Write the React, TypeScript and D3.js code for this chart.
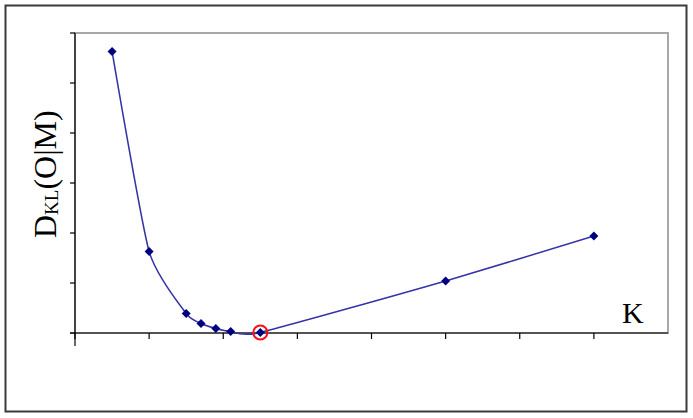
import React from 'react';
import * as d3 from 'd3';

// K values and divergence
const kValues = [10, 20, 30, 34, 38, 42, 50, 100, 140];
const dklValues = [5.63, 1.63, 0.39, 0.19, 0.09, 0.03, 0.01, 1.04, 1.94];
const xTicks = [0, 20, 40, 60, 80, 100, 120, 140];
const yTicks = [0, 1, 2, 3, 4, 5, 6];
const bestIndex = 6;

const width = 693;
const height = 418;
const plot = { left: 75, right: 668, top: 33, bottom: 333 };

const App = () => {
  const x = d3.scaleLinear().domain([0, 160]).range([plot.left, plot.right]);
  const y = d3.scaleLinear().domain([0, 6]).range([plot.bottom, plot.top]);

  const points = kValues.map((k, i) => [k, dklValues[i]] as [number, number]);
  const line = d3
    .line<[number, number]>()
    .x((d) => x(d[0]))
    .y((d) => y(d[1]))
    .curve(d3.curveCardinal.tension(0.45));

  const diamond = 'M0,-4.5L4.5,0L0,4.5L-4.5,0Z';
  const best = points[bestIndex];

  return (
    <svg
      width={width}
      height={height}
      style={{ position: 'absolute', left: 0, top: 0, background: '#fff' }}
      fontFamily="'Liberation Serif', 'Times New Roman', serif"
    >
      {/* chart frame */}
      <rect x={5.5} y={5.5} width={681} height={406} fill="#fff" stroke="#3a3a3a" strokeWidth={2} />

      {/* plot area border */}
      <rect
        x={plot.left}
        y={plot.top}
        width={plot.right - plot.left}
        height={plot.bottom - plot.top}
        fill="#fff"
        stroke="#a8a8a8"
        strokeWidth={2}
      />

      {/* y axis */}
      <line x1={plot.left} y1={plot.top} x2={plot.left} y2={plot.bottom + 13} stroke="#000" strokeWidth={1.2} />
      {yTicks.map((t) => (
        <line key={'yt' + t} x1={plot.left - 5} x2={plot.left} y1={y(t)} y2={y(t)} stroke="#000" strokeWidth={1.2} />
      ))}

      {/* x axis */}
      <line x1={plot.left - 5} y1={plot.bottom} x2={plot.right} y2={plot.bottom} stroke="#000" strokeWidth={1.2} />
      {xTicks.map((t) => (
        <line key={'xt' + t} x1={x(t)} x2={x(t)} y1={plot.bottom} y2={plot.bottom + 6} stroke="#000" strokeWidth={1.2} />
      ))}

      {/* series */}
      <path d={line(points) || ''} fill="none" stroke="#3434a8" strokeWidth={1.5} />
      {points.map((p, i) => (
        <path key={i} d={diamond} transform={`translate(${x(p[0])},${y(p[1])})`} fill="#000080" />
      ))}
      <circle cx={x(best[0])} cy={y(best[1])} r={7} fill="none" stroke="#ff1010" strokeWidth={2} />

      {/* labels */}
      <text transform="translate(56,238) rotate(-90)" fill="#000" fontSize={32}>
        D
        <tspan fontSize={19} dy={2}>KL</tspan>
        <tspan dy={-2}>(O|M)</tspan>
      </text>
      <text x={622} y={323} fontSize={30} fill="#000">
        K
      </text>
    </svg>
  );
};

export default App;
